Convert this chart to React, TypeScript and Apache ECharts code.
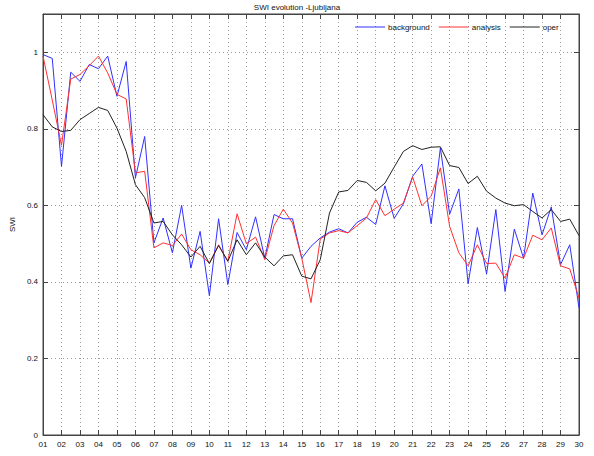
import React, { useEffect, useRef } from 'react';
import * as echarts from 'echarts';

const dayLabels = ['01','02','03','04','05','06','07','08','09','10','11','12','13','14','15','16','17','18','19','20','21','22','23','24','25','26','27','28','29','30'];
// two analyses per day (00 and 12 UTC); x index counts half-days from day 01 00 UTC

const background = [
  0.994, 0.984, 0.702, 0.948, 0.924, 0.968, 0.957, 0.990, 0.885, 0.976,
  0.672, 0.780, 0.502, 0.567, 0.476, 0.600, 0.436, 0.532, 0.364, 0.565,
  0.393, 0.529, 0.484, 0.570, 0.462, 0.576, 0.565, 0.565, 0.462, 0.493,
  0.515, 0.530, 0.539, 0.528, 0.556, 0.569, 0.550, 0.651, 0.566, 0.604,
  0.676, 0.708, 0.552, 0.750, 0.577, 0.643, 0.395, 0.542, 0.421, 0.589,
  0.375, 0.538, 0.462, 0.632, 0.523, 0.596, 0.445, 0.497, 0.332
];
const analysis = [
  0.990, 0.875, 0.757, 0.930, 0.942, 0.965, 0.990, 0.946, 0.890, 0.878,
  0.685, 0.689, 0.489, 0.502, 0.495, 0.525, 0.484, 0.471, 0.449, 0.497,
  0.454, 0.578, 0.500, 0.517, 0.458, 0.547, 0.590, 0.554, 0.462, 0.346,
  0.512, 0.528, 0.534, 0.528, 0.547, 0.567, 0.615, 0.573, 0.590, 0.606,
  0.674, 0.599, 0.624, 0.698, 0.545, 0.476, 0.442, 0.497, 0.448, 0.449,
  0.410, 0.471, 0.462, 0.522, 0.510, 0.541, 0.442, 0.434, 0.358
];
const oper = [
  0.837, 0.805, 0.793, 0.796, 0.824, 0.840, 0.856, 0.848, 0.802, 0.741,
  0.654, 0.620, 0.554, 0.558, 0.523, 0.497, 0.465, 0.493, 0.448, 0.495,
  0.454, 0.510, 0.471, 0.502, 0.465, 0.442, 0.468, 0.471, 0.415, 0.408,
  0.458, 0.580, 0.635, 0.639, 0.665, 0.660, 0.638, 0.658, 0.700, 0.741,
  0.756, 0.746, 0.752, 0.753, 0.704, 0.699, 0.657, 0.676, 0.637, 0.619,
  0.606, 0.599, 0.602, 0.584, 0.567, 0.589, 0.558, 0.564, 0.521
];

const seriesNames = ['background', 'analysis', 'oper'];
const seriesColors = ['#3030ff', '#ff3030', '#222222'];

const FONT = 'Liberation Sans';

export default function App() {
  const ref = useRef<HTMLDivElement>(null);
  useEffect(() => {
    if (!ref.current) return;
    const chart = echarts.init(ref.current, undefined, { renderer: 'svg' });
    const gridLine = { show: true, lineStyle: { color: '#9a9a9a', type: [1, 3] as any, width: 1 } };
    const frameColor = '#444444';
    const xMax = (dayLabels.length - 1) * 2;
    chart.setOption({
      animation: false,
      backgroundColor: '#ffffff',
      textStyle: { fontFamily: FONT },
      title: {
        text: 'SWI evolution -Ljubljana',
        left: 'center',
        top: 3,
        padding: 0,
        textStyle: { fontSize: 8, fontWeight: 'normal', color: '#111', fontFamily: FONT },
      },
      legend: {
        left: 355,
        top: 23,
        padding: 0,
        icon: 'rect',
        itemWidth: 30,
        itemHeight: 1,
        itemGap: 9,
        textStyle: { fontSize: 8, color: '#111', fontFamily: FONT, padding: [0, 0, 0, -2] },
        data: seriesNames,
      },
      grid: {
        left: 42,
        right: 15,
        top: 14,
        bottom: 21,
        show: true,
        borderColor: frameColor,
        borderWidth: 1,
      },
      xAxis: [
        {
          type: 'value',
          min: 0,
          max: xMax,
          interval: 2,
          axisLine: { show: true, onZero: false, lineStyle: { color: frameColor } },
          axisTick: { show: true, inside: true, length: 5, lineStyle: { color: frameColor } },
          axisLabel: {
            fontSize: 8,
            color: '#111',
            margin: 5,
            formatter: (v: number) => dayLabels[Math.round(v / 2)] ?? '',
          },
          splitLine: gridLine,
        },
        {
          type: 'value',
          min: 0,
          max: xMax,
          interval: 2,
          position: 'top',
          axisLine: { show: true, onZero: false, lineStyle: { color: frameColor } },
          axisTick: { show: true, inside: true, length: 5, lineStyle: { color: frameColor } },
          axisLabel: { show: false },
          splitLine: { show: false },
        },
      ],
      yAxis: [
        {
          type: 'value',
          min: 0,
          max: 1.1,
          interval: 0.2,
          name: 'SWI',
          nameLocation: 'middle',
          nameGap: 22,
          nameRotate: 90,
          nameTextStyle: { fontSize: 8, color: '#111111', fontFamily: FONT },
          axisLine: { show: true, onZero: false, lineStyle: { color: frameColor } },
          axisTick: { show: true, inside: true, length: 5, lineStyle: { color: frameColor } },
          axisLabel: { fontSize: 8, color: '#111', margin: 5, showMaxLabel: false, formatter: (v: number) => String(Math.round(v * 10) / 10) },
          splitLine: gridLine,
        },
        {
          type: 'value',
          min: 0,
          max: 1.1,
          interval: 0.2,
          position: 'right',
          axisLine: { show: true, onZero: false, lineStyle: { color: frameColor } },
          axisTick: { show: true, inside: true, length: 5, lineStyle: { color: frameColor } },
          axisLabel: { show: false },
          splitLine: { show: false },
        },
      ],
      series: [background, analysis, oper].map((vals, k) => ({
        name: seriesNames[k],
        type: 'line',
        data: vals.map((v, i) => [i, v]),
        symbol: 'none',
        color: seriesColors[k],
        lineStyle: { width: 1, color: seriesColors[k] },
        xAxisIndex: 0,
        yAxisIndex: 0,
      })),
    });
    return () => chart.dispose();
  }, []);
  return <div ref={ref} style={{ position: 'absolute', left: 0, top: 0, width: 594, height: 456 }} />;
}
